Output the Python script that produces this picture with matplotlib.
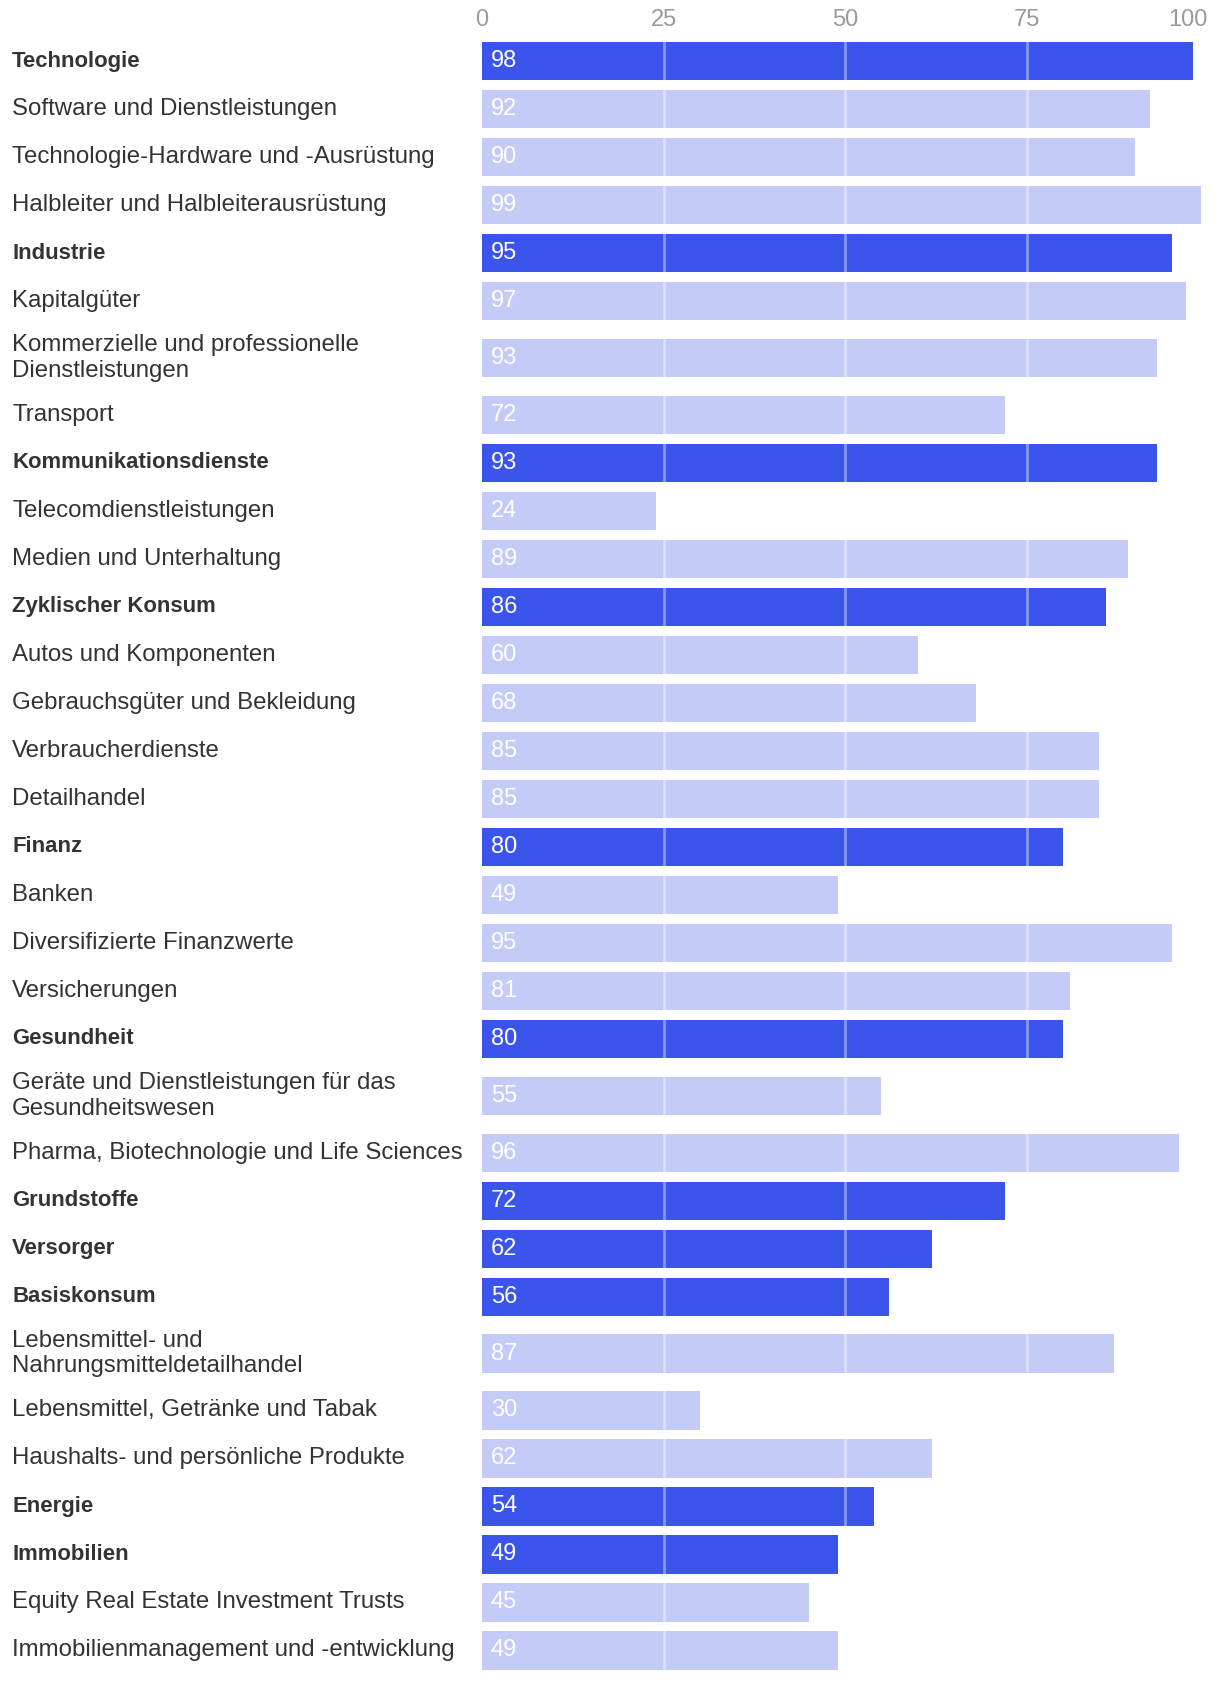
import numpy as np
import matplotlib.pyplot as plt
import matplotlib.transforms as mtransforms

plt.rcParams['font.family'] = ['Liberation Sans', 'DejaVu Sans']

labels = [
    "Technologie",
    "Software und Dienstleistungen",
    "Technologie-Hardware und -Ausrüstung",
    "Halbleiter und Halbleiterausrüstung",
    "Industrie",
    "Kapitalgüter",
    "Kommerzielle und professionelle\nDienstleistungen",
    "Transport",
    "Kommunikationsdienste",
    "Telecomdienstleistungen",
    "Medien und Unterhaltung",
    "Zyklischer Konsum",
    "Autos und Komponenten",
    "Gebrauchsgüter und Bekleidung",
    "Verbraucherdienste",
    "Detailhandel",
    "Finanz",
    "Banken",
    "Diversifizierte Finanzwerte",
    "Versicherungen",
    "Gesundheit",
    "Geräte und Dienstleistungen für das\nGesundheitswesen",
    "Pharma, Biotechnologie und Life Sciences",
    "Grundstoffe",
    "Versorger",
    "Basiskonsum",
    "Lebensmittel- und\nNahrungsmitteldetailhandel",
    "Lebensmittel, Getränke und Tabak",
    "Haushalts- und persönliche Produkte",
    "Energie",
    "Immobilien",
    "Equity Real Estate Investment Trusts",
    "Immobilienmanagement und -entwicklung",
]
values = [98, 92, 90, 99, 95, 97, 93, 72, 93, 24, 89, 86, 60, 68, 85, 85,
          80, 49, 95, 81, 80, 55, 96, 72, 62, 56, 87, 30, 62, 54, 49, 45, 49]
is_sector = [1, 0, 0, 0, 1, 0, 0, 0, 1, 0, 0, 1, 0, 0, 0, 0,
             1, 0, 0, 0, 1, 0, 0, 1, 1, 1, 0, 0, 0, 1, 1, 0, 0]
ticks = [0, 25, 50, 75, 100]

DARK = "#3b54ec"
LIGHT = "#c4cbf7"

# row heights grow for wrapped labels
row_h = np.array([1.37 if "\n" in l else 1.0 for l in labels])
tops = np.concatenate([[0], np.cumsum(row_h)[:-1]])
centers = tops + row_h / 2
total = row_h.sum()

fig = plt.figure(figsize=(12.2, 16.82), dpi=100)
px_top = 37.2
px_bot = px_top + total * 48.0
ax = fig.add_axes([482 / 1220, 1 - px_bot / 1682, 726 / 1220, (px_bot - px_top) / 1682])

colors = [DARK if s else LIGHT for s in is_sector]
ax.barh(centers, values, height=0.8, color=colors, zorder=1)

for t in ticks[1:]:
    ax.axvline(t, color="white", alpha=0.4, lw=2, zorder=2)

ax.set_xlim(0, 100)
ax.set_ylim(total, 0)
ax.set_yticks([])
ax.set_xticks([])
for s in ax.spines.values():
    s.set_visible(False)

for i, t in enumerate(ticks):
    ha = "right" if i == len(ticks) - 1 else "center"
    ax.text(t, -0.36, str(t), ha=ha, va="center", fontsize=17, color="#9a9a9a")

trans = mtransforms.blended_transform_factory(fig.transFigure, ax.transData)
for lab, y, v, s in zip(labels, centers, values, is_sector):
    if s:
        ax.text(12 / 1220, y, lab, transform=trans, ha="left", va="center",
                fontsize=15.9, color="#333333", fontweight="bold")
    else:
        ax.text(12 / 1220, y, lab, transform=trans, ha="left", va="center",
                fontsize=17.3, color="#333333", linespacing=1.2)
    ax.text(1.2, y, str(v), ha="left", va="center", fontsize=17, color="white", zorder=3)

fig.savefig("out.png", dpi=100)
